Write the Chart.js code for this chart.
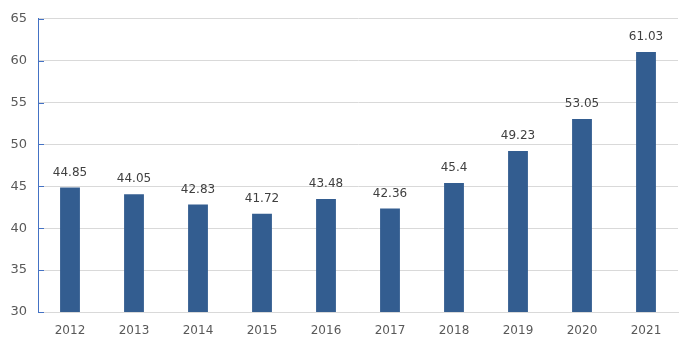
<!DOCTYPE html>
<html><head><meta charset="utf-8">
<script src="https://cdn.jsdelivr.net/npm/chart.js@4/dist/chart.umd.min.js"></script>
<style>html,body{margin:0;padding:0;background:#fff}#wrap{width:696px;height:353px}</style>
</head><body><div id="wrap"><canvas id="c" width="696" height="353"></canvas></div>
<script>
const categories = ['2012','2013','2014','2015','2016','2017','2018','2019','2020','2021'];
const values = [44.85, 44.05, 42.83, 41.72, 43.48, 42.36, 45.4, 49.23, 53.05, 61.03];
const yTicks = [30,35,40,45,50,55,60,65];

const labelPlugin = {
  id: 'labels',
  afterDatasetsDraw(chart) {
    const ctx = chart.ctx;
    const meta = chart.getDatasetMeta(0);
    ctx.save();
    ctx.font = '12px "DejaVu Sans", sans-serif';
    ctx.fillStyle = '#404040';
    ctx.textAlign = 'center';
    ctx.textBaseline = 'bottom';
    meta.data.forEach((bar, i) => {
      ctx.fillText(String(values[i]), bar.x, bar.y - 9);
    });
    // y axis tick marks inside
    const ys = chart.scales.y;
    ctx.strokeStyle = '#4472C4';
    ctx.lineWidth = 1;
    yTicks.forEach(v => {
      const py = Math.round(ys.getPixelForValue(v)) + 0.5;
      ctx.beginPath();
      ctx.moveTo(ys.right, py);
      ctx.lineTo(ys.right + 6, py);
      ctx.stroke();
    });
    ctx.restore();
  }
};

new Chart(document.getElementById('c'), {
  type: 'bar',
  data: { labels: categories, datasets: [{ data: values, backgroundColor: '#335D90', categoryPercentage: 1, barPercentage: 0.31 }] },
  options: {
    responsive: false, animation: false,
    layout: { padding: { top: 18, right: 18, left: 0, bottom: 0 } },
    plugins: { legend: { display: false }, tooltip: { enabled: false } },
    scales: {
      x: {
        grid: { display: false, drawTicks: false },
        border: { color: '#D9D9D9' },
        ticks: { color: '#595959', font: { size: 12, family: '"DejaVu Sans", sans-serif' }, padding: 12, maxRotation: 0 },
        afterFit(s) { s.height = 41; }
      },
      y: {
        min: 30, max: 65,
        afterBuildTicks(s) { s.ticks = yTicks.map(v => ({ value: v })); },
        grid: { color: '#D9D9D9', drawTicks: false },
        border: { color: '#4472C4' },
        ticks: { color: '#595959', font: { size: 13, family: '"DejaVu Sans", sans-serif' }, padding: 11 },
        afterFit(s) { s.width = 38; }
      }
    }
  },
  plugins: [labelPlugin]
});
</script></body></html>
